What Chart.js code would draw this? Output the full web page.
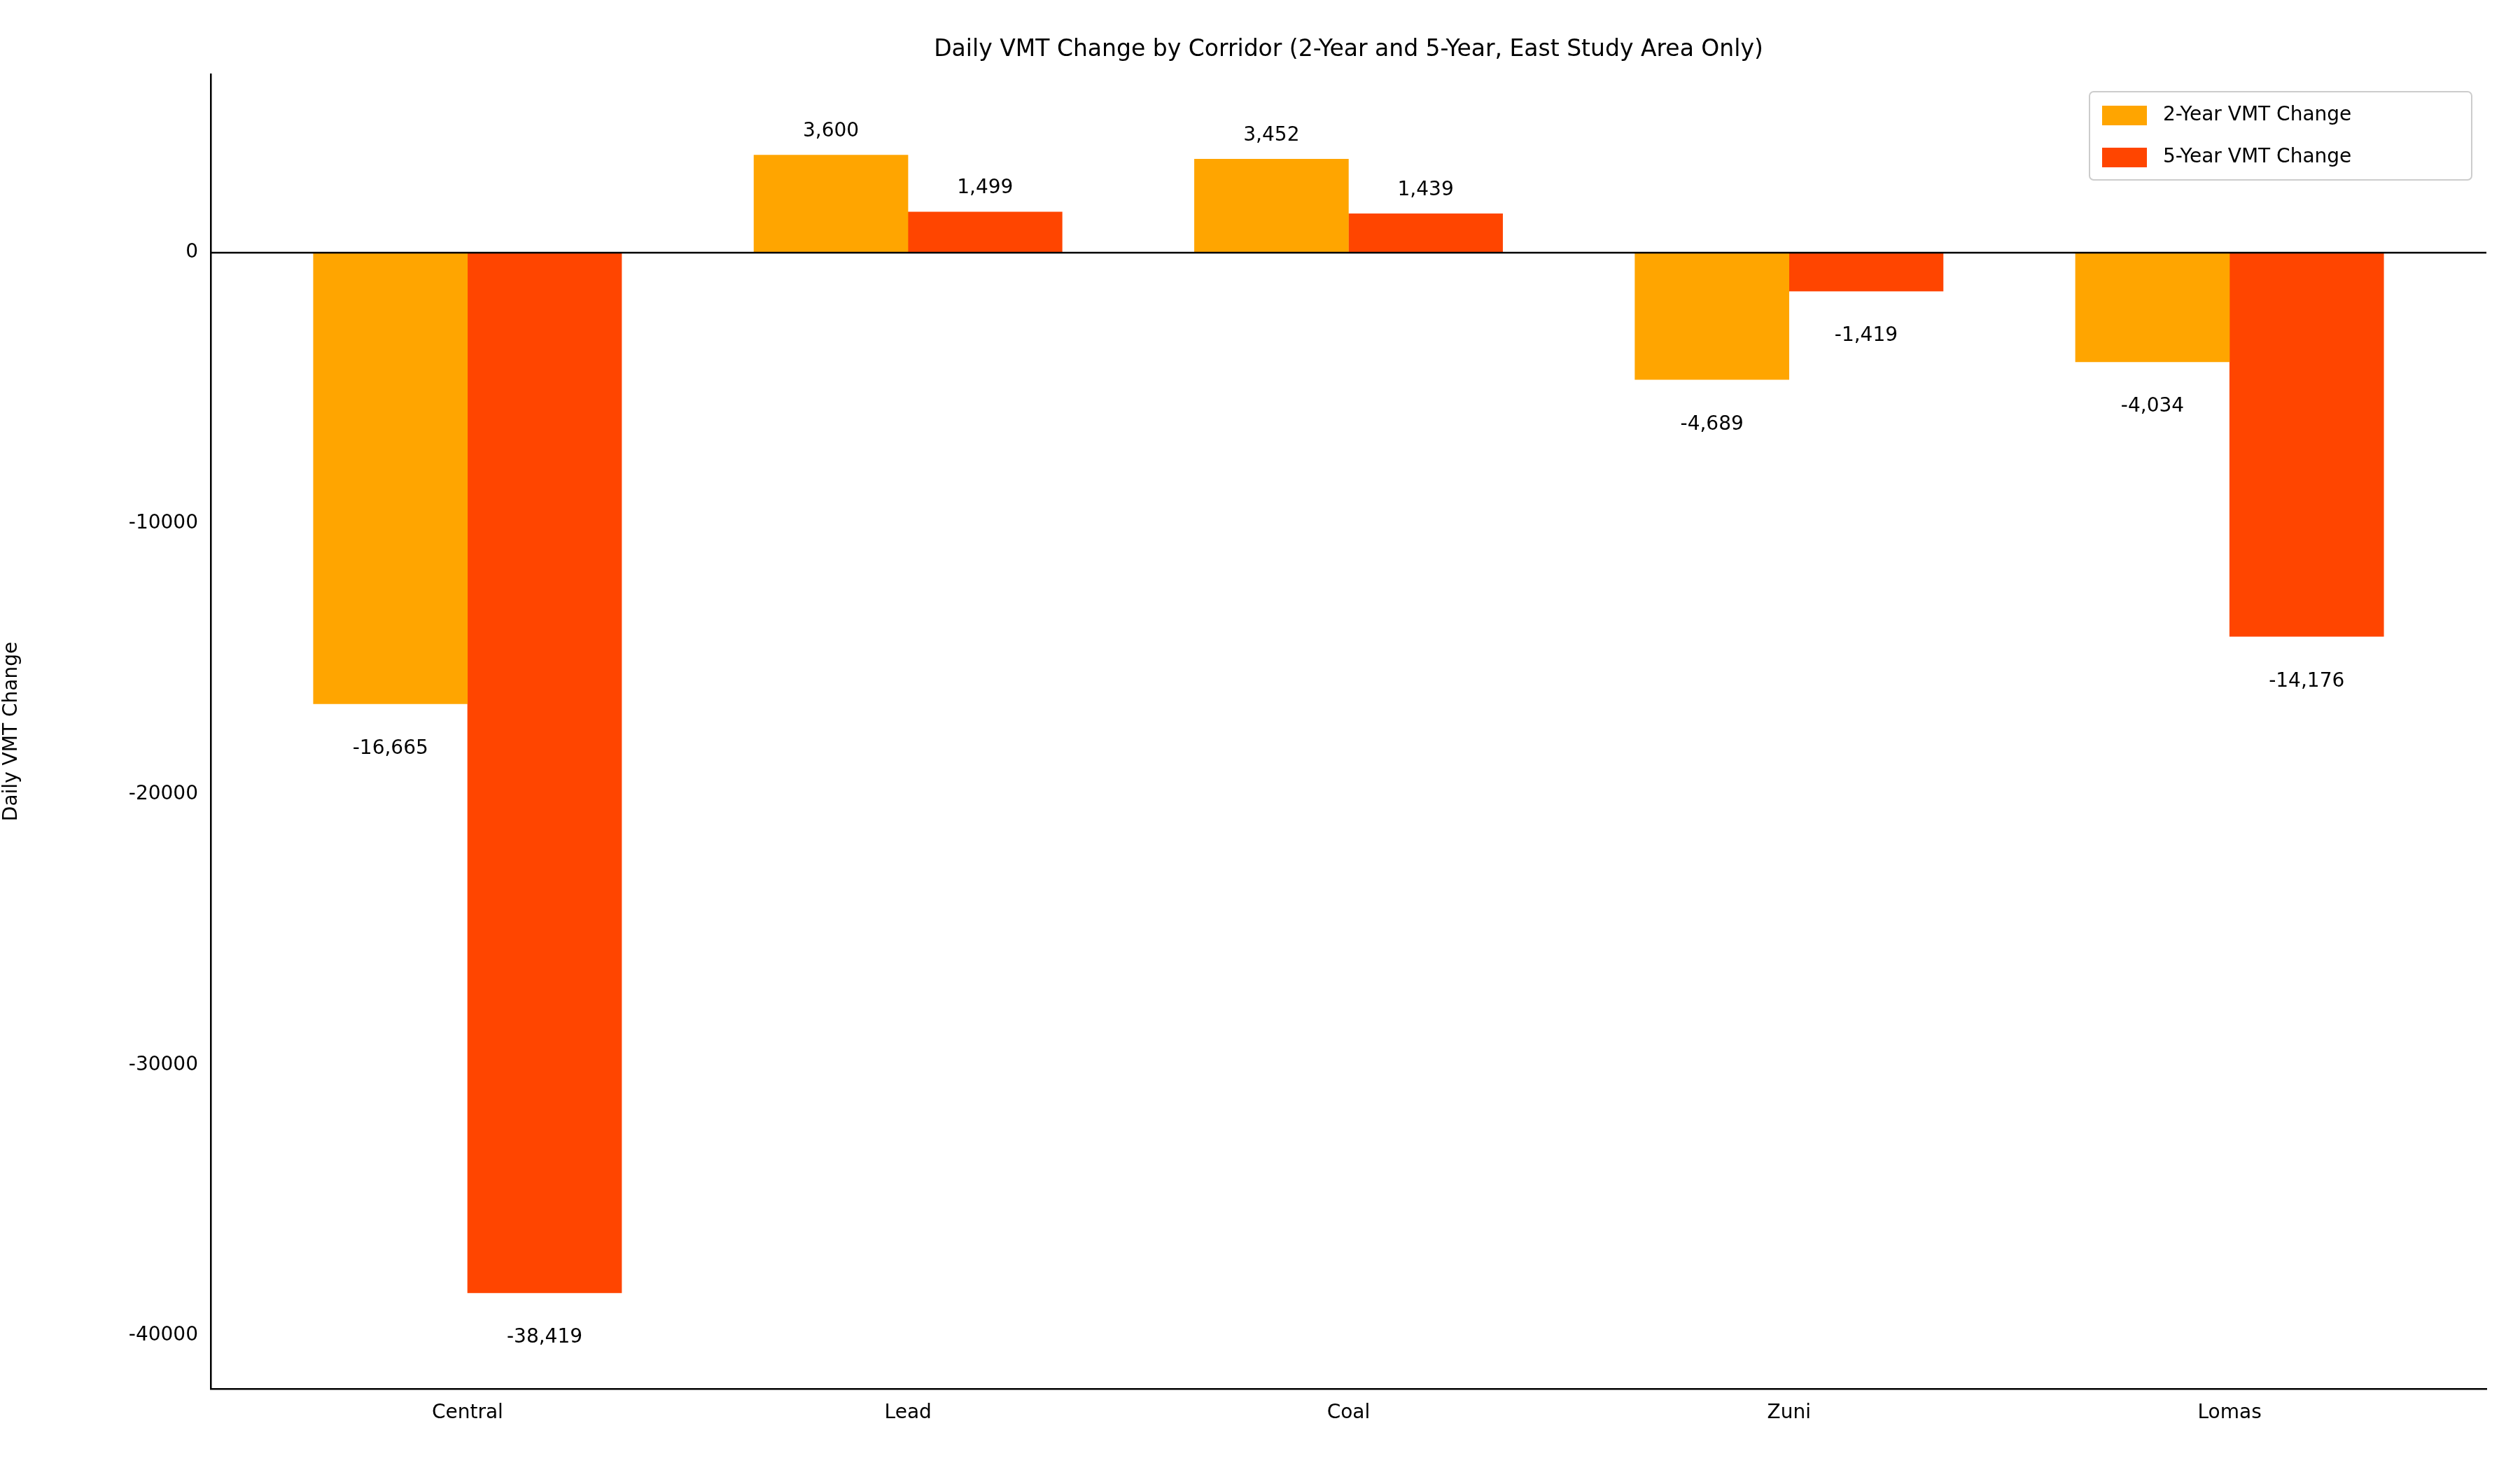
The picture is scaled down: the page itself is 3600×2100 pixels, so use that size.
<!DOCTYPE html>
<html><head><meta charset="utf-8">
<script src="https://cdn.jsdelivr.net/npm/chart.js@4/dist/chart.umd.min.js"></script>
<style>html,body{margin:0;padding:0;background:#fff}#w{width:3600px;height:2100px}</style>
</head><body><div id="w"><canvas id="c"></canvas></div>
<script>
const categories = ["Central","Lead","Coal","Zuni","Lomas"];
const twoYear = [-16665, 3600, 3452, -4689, -4034];
const fiveYear = [-38419, 1499, 1439, -1419, -14176];
const yTicks = [-40000,-30000,-20000,-10000,0];
const seriesNames = ["2-Year VMT Change","5-Year VMT Change"];
const colors = ["#FFA500","#FF4500"];
const FONT = "DejaVu Sans";
const fmt = v => v.toLocaleString('en-US');

const labelsPlugin = {
  id:'lbl',
  afterDatasetsDraw(chart){
    const ctx = chart.ctx, y = chart.scales.y, ca = chart.chartArea;
    ctx.save();
    // zero line
    ctx.strokeStyle='#000'; ctx.lineWidth=2.5;
    ctx.beginPath(); ctx.moveTo(ca.left,y.getPixelForValue(0)); ctx.lineTo(ca.right,y.getPixelForValue(0)); ctx.stroke();
    ctx.font = `28px "${FONT}"`; ctx.fillStyle='#000'; ctx.textAlign='center';
    chart.data.datasets.forEach((ds,di)=>{
      chart.getDatasetMeta(di).data.forEach((el,i)=>{
        const v = ds.data[i].y;
        if (v>=0){ ctx.textBaseline='bottom'; ctx.fillText(fmt(v), el.x, el.y-20); }
        else { ctx.textBaseline='top'; ctx.fillText(fmt(v), el.x, el.y+78-28); }
      });
    });
    // title
    ctx.font = `33px "${FONT}"`; ctx.textBaseline='bottom';
    ctx.fillText("Daily VMT Change by Corridor (2-Year and 5-Year, East Study Area Only)", (ca.left+ca.right)/2, ca.top-18);
    // legend
    const bx=2985, by=131, bw=546, bh=126;
    ctx.fillStyle='rgba(255,255,255,0.8)'; ctx.strokeStyle='#ccc'; ctx.lineWidth=2;
    ctx.beginPath(); ctx.roundRect(bx,by,bw,bh,6); ctx.fill(); ctx.stroke();
    ctx.textAlign='left'; ctx.textBaseline='middle'; ctx.font=`28px "${FONT}"`;
    seriesNames.forEach((n,k)=>{
      const cy = by+34+k*60;
      ctx.fillStyle=colors[k]; ctx.fillRect(bx+18,cy-14,64,28);
      ctx.fillStyle='#000'; ctx.fillText(n,bx+105,cy);
    });
    ctx.restore();
  }
};

new Chart(document.getElementById('c'),{
  type:'bar',
  data:{datasets:[
    {label:seriesNames[0],data:twoYear.map((v,i)=>({x:i-0.175,y:v})),backgroundColor:colors[0],barThickness:220},
    {label:seriesNames[1],data:fiveYear.map((v,i)=>({x:i+0.175,y:v})),backgroundColor:colors[1],barThickness:220}
  ]},
  options:{
    responsive:true,maintainAspectRatio:false,animation:false,
    layout:{padding:{left:0,right:48,top:106,bottom:0}},
    plugins:{legend:{display:false},tooltip:{enabled:false}},
    datasets:{bar:{grouped:false}},
    scales:{
      x:{type:'linear',min:-0.583,max:4.583,offset:false,
        grid:{display:false,drawTicks:true,tickLength:10,tickColor:'#000'},
        border:{color:'#000',width:2.5},
        afterBuildTicks:s=>{s.ticks=categories.map((c,i)=>({value:i}));},
        afterFit:s=>{s.height=116;},
        ticks:{autoSkip:false,maxRotation:0,color:'#000',font:{family:FONT,size:28},padding:8,callback:v=>categories[v]}
      },
      y:{min:-41960,max:6590,
        grid:{display:false,drawTicks:true,tickLength:10,tickColor:'#000'},
        border:{color:'#000',width:2.5},
        afterBuildTicks:s=>{s.ticks=yTicks.map(v=>({value:v}));},
        afterFit:s=>{s.width=301;},
        ticks:{color:'#000',font:{family:FONT,size:28},padding:8,callback:v=>String(v)},
        title:{display:true,text:"Daily VMT Change",color:'#000',font:{family:FONT,size:28},padding:{top:0,bottom:30}}
      }
    }
  },
  plugins:[labelsPlugin]
});
// add right/top border
Chart.register({id:'frame',afterDraw(c){}});
</script>
<script>
// draw top and right frame after render
setTimeout(()=>{},0);
</script>
</body></html>
